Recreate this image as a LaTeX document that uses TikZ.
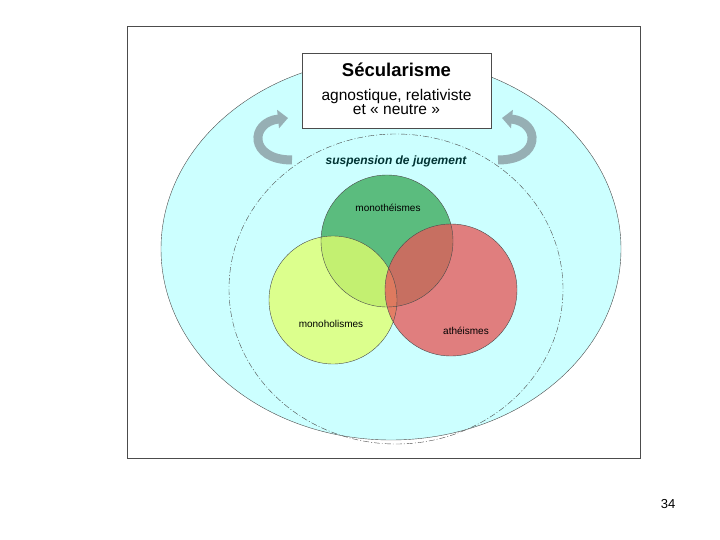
\documentclass[tikz,border=0pt]{standalone}
\usepackage{fontspec}
\setmainfont{Liberation Sans}
\usetikzlibrary{arrows.meta,shapes.geometric}
\definecolor{cyanbg}{RGB}{204,255,255}
\definecolor{arrowc}{RGB}{150,175,180}
\definecolor{teal}{RGB}{0,51,51}
\definecolor{vgreen}{RGB}{60,170,90}
\definecolor{vyellow}{RGB}{225,255,110}
\definecolor{vred}{RGB}{230,90,90}
\tikzset{
  venn/.style={fill opacity=0.78},
  twist/.style={line width=9pt, arrowc, -{Triangle[width=18pt,length=10pt]}},
  lbl/.style={font=\fontsize{10}{11}\selectfont}
}
\begin{document}
\begin{tikzpicture}[x=1pt,y=-1pt]
\useasboundingbox (0,0) rectangle (720,540);
\node[draw=black!70, line width=0.5pt, minimum width=513pt, minimum height=432pt, inner sep=0pt] (frame) at (383.5,242) {};
\node[draw=black!70, fill=cyanbg, ellipse, minimum width=460pt, minimum height=382pt, inner sep=0pt] (outer) at (391,249) {};
\draw[black!70, dash pattern=on 6pt off 2pt on 1pt off 2pt] (396,289) ellipse [x radius=167pt, y radius=155pt];
\coordinate (l1) at (292,160); \coordinate (l2) at (288,118);
\coordinate (r1) at (498,160); \coordinate (r2) at (502,118);
\draw[twist] (l1) .. controls (248,160) and (250,122) .. (l2);
\draw[twist] (r1) .. controls (542,160) and (540,122) .. (r2);
\node[draw=black!70, fill=white, minimum width=189pt, minimum height=75pt, inner sep=0pt] (box) at (396.5,90.5) {};
\node (t1) at (396.5,70) {\fontsize{18.5}{20}\selectfont\bfseries Sécularisme};
\node[align=center] (t2) at (396.5,102) {\fontsize{15.5}{20}\selectfont agnostique, relativiste\\ \fontsize{15.5}{20}\selectfont et « neutre »};
\node[text=teal] (susp) at (396,161) {\fontsize{12}{14}\selectfont\itshape\bfseries suspension de jugement};
\fill[venn, fill=vgreen] (387,241) circle[radius=66pt];
\fill[venn, fill=vyellow] (333,300) circle[radius=64pt];
\fill[venn, fill=vred] (451,290) circle[radius=66pt];
\draw[black!70] (387,241) circle[radius=66pt] (333,300) circle[radius=64pt] (451,290) circle[radius=66pt];
\node[lbl] (m1) at (388,208) {monothéismes};
\node[lbl] (m2) at (331,324) {monoholismes};
\node[lbl] (m3) at (466,331) {athéismes};
\node (pg) at (668,504) {\fontsize{13}{14}\selectfont 34};
\end{tikzpicture}
\end{document}
